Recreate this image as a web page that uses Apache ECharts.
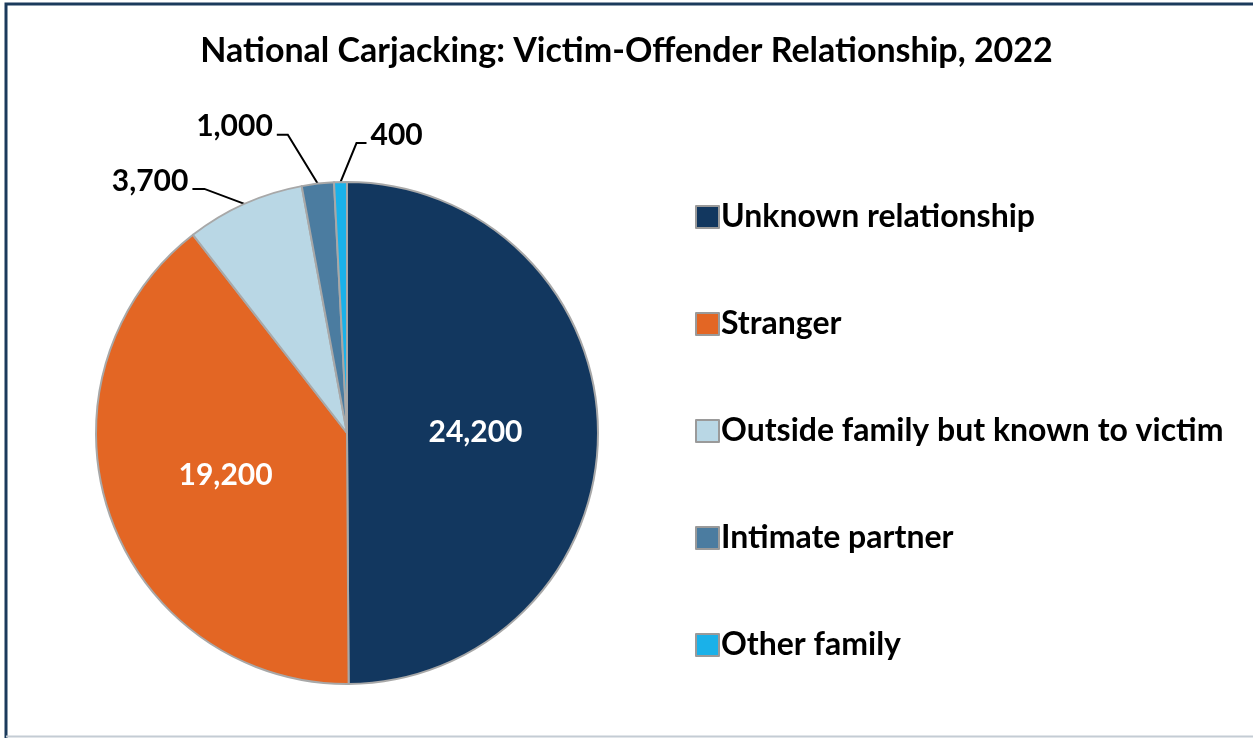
<!DOCTYPE html>
<html>
<head>
<meta charset="utf-8">
<script src="https://cdn.jsdelivr.net/npm/echarts@6/dist/echarts.min.js"></script>
<style>
html,body{margin:0;padding:0;background:#fff;}
#c{width:1253px;height:738px;}
</style>
</head>
<body>
<div id="c"></div>
<script>
var titleText = 'National Carjacking: Victim-Offender Relationship, 2022';
var categories = ['Unknown relationship', 'Stranger', 'Outside family but known to victim', 'Intimate partner', 'Other family'];
var values = [24200, 19200, 3700, 1000, 400];
var colors = ['#12375f', '#e36624', '#b9d7e5', '#4b7ca0', '#1ab1e9'];
var insideLabel = [true, true, false, false, false];
// leader line styling for outside labels: [dx, dy, horizontal]
var leaders = [null, null, [-40, -15, -12], [-30, -49, -11], [16, -39, 10]];

var FONT = 'Lato';
var chart = echarts.init(document.getElementById('c'), null, {renderer: 'canvas'});

var data = categories.map(function (name, i) {
  var item = {name: name, value: values[i], itemStyle: {color: colors[i]}};
  if (insideLabel[i]) {
    item.label = {position: 'inside', color: '#fff', fontSize: 30};
    item.labelLine = {show: false};
  } else {
    item.label = {position: 'outside', color: '#000', fontSize: 30};
    item.labelLine = {show: true, length: 10, length2: 10, lineStyle: {color: '#000', width: 2}};
  }
  return item;
});

chart.setOption({
  animation: false,
  backgroundColor: '#fff',
  title: {
    text: titleText,
    left: 'center',
    top: 29,
    textStyle: {fontFamily: FONT, fontWeight: 'bold', fontSize: 34, color: '#000'}
  },
  legend: {
    orient: 'vertical',
    left: 690,
    top: 195,
    itemWidth: 23,
    itemHeight: 22,
    itemGap: 73,
    icon: 'rect',
    itemStyle: {borderColor: '#9a9a9a', borderWidth: 2},
    textStyle: {fontFamily: FONT, fontWeight: 'bold', fontSize: 32, color: '#000', lineHeight: 34, padding: [0, 0, 0, -3]},
    data: categories
  },
  graphic: [
    {type: 'polyline', shape: {points: [[6, 740], [6, 4], [1260, 4]]}, style: {stroke: '#1b3a5c', lineWidth: 3, fill: null}},
    {type: 'line', shape: {x1: 6, y1: 736.5, x2: 1260, y2: 736.5}, style: {stroke: '#c4ccd4', lineWidth: 2}}
  ],
  series: [{
    type: 'pie',
    center: [347, 433],
    radius: 251,
    startAngle: 90,
    clockwise: true,
    avoidLabelOverlap: false,
    itemStyle: {borderColor: '#a8a8a8', borderWidth: 2},
    label: {
      fontFamily: FONT, fontWeight: 'bold',
      formatter: function (p) { return p.value.toLocaleString('en-US'); }
    },
    labelLayout: function (p) {
      var cfg = leaders[p.dataIndex];
      if (!cfg || !p.labelLinePoints) return {};
      var e = p.labelLinePoints[0];
      var p2 = [e[0] + cfg[0], e[1] + cfg[1]];
      var p3 = [p2[0] + cfg[2], p2[1]];
      var right = cfg[2] > 0;
      return {
        x: p3[0] + (right ? 4 : -4),
        y: p3[1] - 8,
        align: right ? 'left' : 'right',
        verticalAlign: 'middle',
        labelLinePoints: [e, p2, p3]
      };
    },
    emphasis: {disabled: true},
    data: data
  }]
});
</script>
</body>
</html>
